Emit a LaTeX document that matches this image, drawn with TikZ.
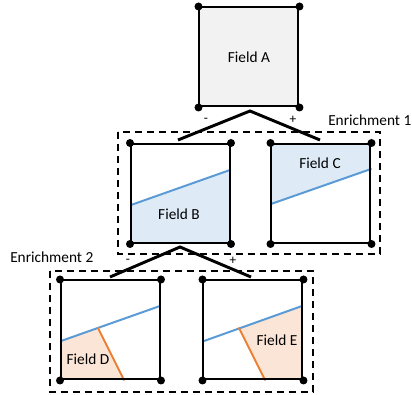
\documentclass[tikz,border=0pt]{standalone}
\usepackage{fontspec}
\setmainfont{Carlito}
\usepackage{xcolor}
\definecolor{fieldgray}{HTML}{F2F2F2}
\definecolor{fieldblue}{HTML}{DEEBF7}
\definecolor{lineblue}{HTML}{5B9BD5}
\definecolor{fieldorange}{HTML}{FBE5D6}
\definecolor{lineorange}{HTML}{ED7D31}
\tikzset{
  cell/.style={draw, line width=1.5pt, minimum size=74.25pt, inner sep=0pt},
  branch/.style={line width=2.2pt},
  enrichbox/.style={line width=1.5pt, dash pattern=on 5.5pt off 3.5pt},
  crack/.style={line width=1.5pt, line cap=round},
  lbl/.style={font=\fontsize{11.5}{14}\selectfont, inner sep=0pt},
  sgn/.style={font=\fontsize{10}{12}\selectfont, inner sep=0pt}
}
\begin{document}
\begin{tikzpicture}[x=0.75pt,y=-0.75pt]
\useasboundingbox (0,0) rectangle (412,395);
% shaded parts
\fill[fieldblue] (131,205) -- (230,170) -- (230,243) -- (131,243) -- cycle;
\fill[fieldblue] (271,144) -- (371,144) -- (371,169) -- (271,204) -- cycle;
\fill[fieldorange] (60,341) -- (98,328) -- (124,380) -- (60,380) -- cycle;
\fill[fieldorange] (239,328) -- (303,306) -- (303,380) -- (265,380) -- cycle;
% cracks
\draw[crack, lineblue] (131,205) -- (230,170);
\draw[crack, lineblue] (271,204) -- (371,169);
\draw[crack, lineblue] (61,341) -- (160,306);
\draw[crack, lineblue] (204,341) -- (302,306);
\draw[crack, lineorange] (98,328) -- (124,380);
\draw[crack, lineorange] (239,328) -- (265,380);
% cells
\node[cell, fill=fieldgray] (A) at (249,57) {};
\node[cell] (B) at (180.5,193.5) {};
\node[cell] (C) at (321,193.5) {};
\node[cell] (D) at (110.5,330) {};
\node[cell] (E) at (253,330) {};
\foreach \n in {A,B,C,D,E}
  \foreach \c in {north west,north east,south west,south east}
    \fill (\n.\c) circle (3pt);
\node[lbl] (labA) at (249,57) {Field A};
\node[lbl] (labB) at (179,214) {Field B};
\node[lbl] (labC) at (320,163) {Field C};
\node[lbl] (labD) at (88,359) {Field D};
\node[lbl] (labE) at (277,340) {Field E};
% enrichment boxes
\draw[enrichbox] (118,132) rectangle (380,254);
\draw[enrichbox] (50,271) rectangle (313,392);
\node[lbl, anchor=west] (enr1) at (328,120) {Enrichment 1};
\node[lbl, anchor=west] (enr2) at (10,257) {Enrichment 2};
% branches
\coordinate (top1) at (250,111);
\coordinate (left1) at (178,140);
\coordinate (right1) at (320,140);
\draw[branch] (left1) -- (top1) -- (right1);
\node[sgn] (m1) at (206,120) {-};
\node[sgn] (p1) at (293,120) {+};
\coordinate (top2) at (180,247);
\coordinate (left2) at (110,277);
\coordinate (right2) at (251,277);
\draw[branch] (left2) -- (top2) -- (right2);
\node[sgn] (m2) at (128,261) {-};
\node[sgn] (p2) at (233,261) {+};
\end{tikzpicture}
\end{document}
